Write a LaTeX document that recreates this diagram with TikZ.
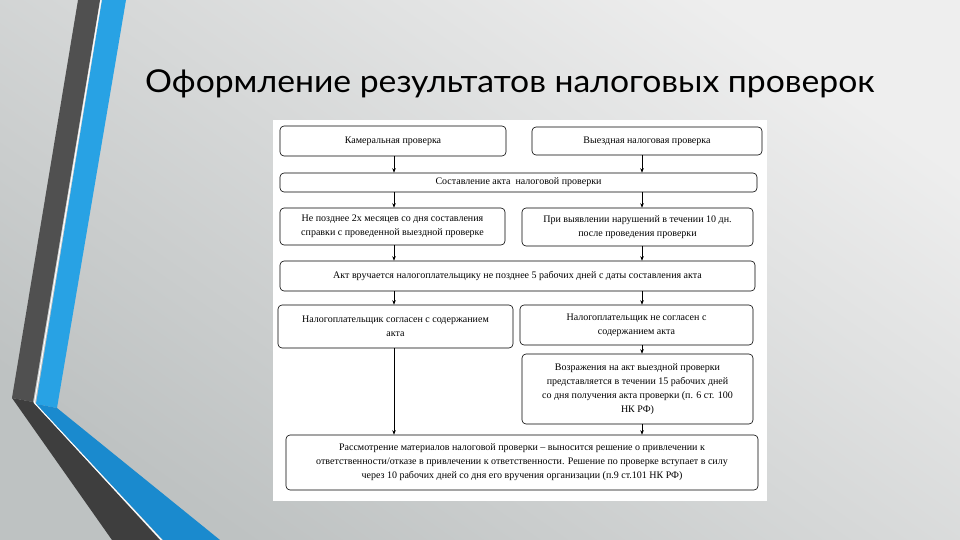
\documentclass[tikz,border=0pt]{standalone}
\usepackage{fontspec}
\setmainfont{Liberation Serif}
\newfontfamily\titlefont[FakeStretch=1.07]{Lato}
\usetikzlibrary{positioning, arrows.meta, calc}
\definecolor{bglight}{RGB}{238,238,238}
\definecolor{bgdark}{RGB}{190,194,194}
\definecolor{stripgray}{RGB}{80,80,80}
\definecolor{stripdark}{RGB}{62,62,62}
\definecolor{stripblue}{RGB}{40,162,228}
\definecolor{stripdeep}{RGB}{26,138,206}

\begin{document}
\begin{tikzpicture}[x=1pt, y=-1pt,
    box/.style={draw, rounded corners=4pt, line width=0.6pt, align=center, inner sep=1pt,
      font=\fontsize{10}{14}\selectfont},
    arr/.style={-{Stealth[length=4.5pt, width=3.5pt]}, line width=0.6pt}]
  \useasboundingbox (0,0) rectangle (960,540);
  % Slide background
  \shade[top color=bglight, bottom color=bgdark, shading angle=-35] (0,0) rectangle (960,540);
  % Side strips
  \fill[stripblue] (102,0) -- (126,0) -- (57,408) -- (36,404) -- cycle;
  \fill[stripdeep] (36,404) -- (57,408) -- (220,540) -- (163,540) -- cycle;
  \fill[stripgray] (78,0) -- (100,0) -- (33,402) -- (12,398) -- cycle;
  \fill[stripdark] (12,398) -- (33,402) -- (160,540) -- (112,540) -- cycle;
  \draw[white, line width=1pt] (101,0) -- (34.5,403) -- (161.5,540);
  % Title
  \node[anchor=base west, inner sep=0pt, font=\titlefont\fontsize{31.5}{36}\selectfont] (title) at (145,93)
    {Оформление результатов налоговых проверок};
  % Scheme
  \fill[white] (273,120) rectangle (767,501);
  \node[box, minimum width=226pt, minimum height=30pt] (kam) at (393,141) {Камеральная проверка};
  \node[box, minimum width=230pt, minimum height=28pt] (vyezd) at (647,141) {Выездная налоговая проверка};
  \node[box, minimum width=477pt, minimum height=19pt] (akt) at (518.5,182.5) {Составление акта~ налоговой проверки};
  \node[box, minimum width=225pt, minimum height=37pt] (srok2m) at (392.5,226.5)
    {Не позднее 2х месяцев со дня составления\\справки с проведенной выездной проверке};
  \node[box, minimum width=231pt, minimum height=38pt] (srok10) at (637.5,227)
    {При выявлении нарушений в течении 10 дн.\\после проведения проверки};
  \node[box, minimum width=475pt, minimum height=30pt] (vruch) at (517.5,276)
    {Акт вручается налогоплательщику не позднее 5 рабочих дней с даты составления акта};
  \node[box, minimum width=235pt, minimum height=43pt] (soglasen) at (395.5,326.5)
    {Налогоплательщик согласен с содержанием\\акта};
  \node[box, minimum width=233pt, minimum height=40pt] (nesoglasen) at (636.5,325)
    {Налогоплательщик не согласен с\\содержанием акта};
  \node[box, minimum width=231pt, minimum height=70pt] (vozr) at (637.5,389)
    {Возражения на акт выездной проверки\\представляется в течении 15 рабочих дней\\со дня получения акта проверки (п. 6 ст. 100\\НК РФ)};
  \node[box, minimum width=472pt, minimum height=55pt] (rassm) at (522,462.5)
    {Рассмотрение материалов налоговой проверки – выносится решение о привлечении к\\ответственности/отказе в привлечении к ответственности. Решение по проверке вступает в силу\\через 10 рабочих дней со дня его вручения организации (п.9 ст.101 НК РФ)};
  % Arrows
  \coordinate (colL) at (394,0);
  \coordinate (colR) at (642,0);
  \draw[arr] (kam.south -| colL) -- (akt.north -| colL);
  \draw[arr] (vyezd.south -| colR) -- (akt.north -| colR);
  \draw[arr] (akt.south -| colL) -- (srok2m.north -| colL);
  \draw[arr] (akt.south -| colR) -- (srok10.north -| colR);
  \draw[arr] (srok2m.south -| colL) -- (vruch.north -| colL);
  \draw[arr] (srok10.south -| colR) -- (vruch.north -| colR);
  \draw[arr] (vruch.south -| colL) -- (soglasen.north -| colL);
  \draw[arr] (vruch.south -| colR) -- (nesoglasen.north -| colR);
  \draw[arr] (soglasen.south -| colL) -- (rassm.north -| colL);
  \draw[arr] (nesoglasen.south -| colR) -- (vozr.north -| colR);
  \draw[arr] (vozr.south -| colR) -- (rassm.north -| colR);
\end{tikzpicture}
\end{document}
